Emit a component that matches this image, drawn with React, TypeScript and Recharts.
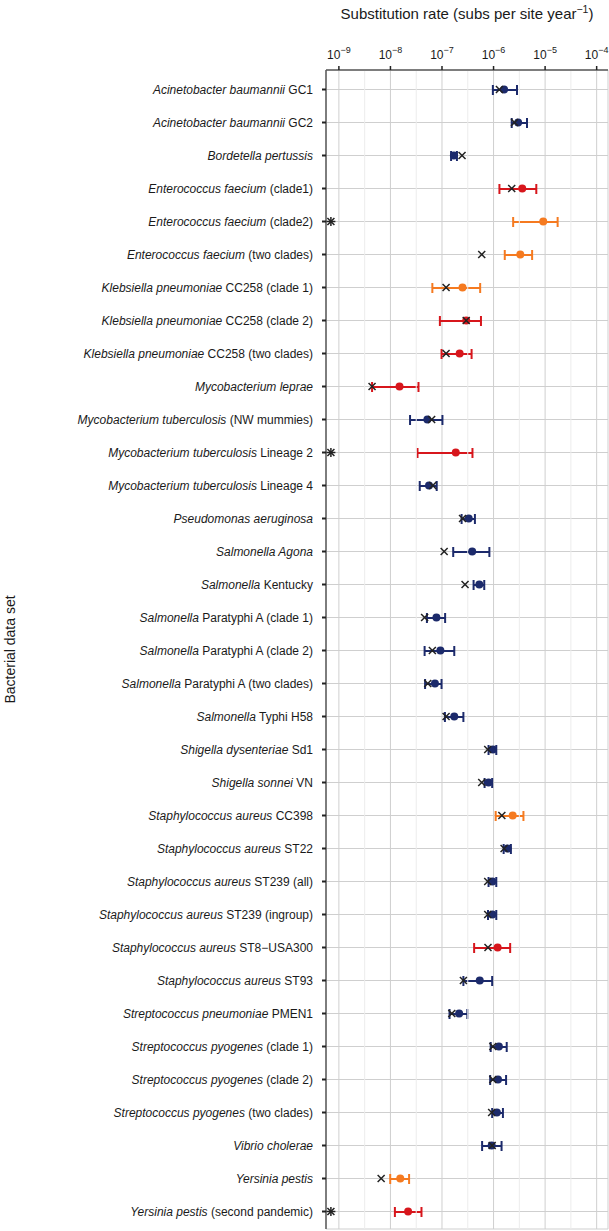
import React from 'react';
import { ComposedChart, XAxis, YAxis, CartesianGrid, Bar, Line, ReferenceLine } from 'recharts';

// Italic taxon part and upright strain part of each data-set label
const taxa: string[] = [
  'Acinetobacter baumannii', 'Acinetobacter baumannii', 'Bordetella pertussis',
  'Enterococcus faecium', 'Enterococcus faecium', 'Enterococcus faecium',
  'Klebsiella pneumoniae', 'Klebsiella pneumoniae', 'Klebsiella pneumoniae',
  'Mycobacterium leprae', 'Mycobacterium tuberculosis', 'Mycobacterium tuberculosis',
  'Mycobacterium tuberculosis', 'Pseudomonas aeruginosa', 'Salmonella Agona',
  'Salmonella', 'Salmonella', 'Salmonella', 'Salmonella', 'Salmonella',
  'Shigella dysenteriae', 'Shigella sonnei', 'Staphylococcus aureus',
  'Staphylococcus aureus', 'Staphylococcus aureus', 'Staphylococcus aureus',
  'Staphylococcus aureus', 'Staphylococcus aureus', 'Streptococcus pneumoniae',
  'Streptococcus pyogenes', 'Streptococcus pyogenes', 'Streptococcus pyogenes',
  'Vibrio cholerae', 'Yersinia pestis', 'Yersinia pestis',
];
const strains: string[] = [
  'GC1', 'GC2', '',
  '(clade1)', '(clade2)', '(two clades)',
  'CC258 (clade 1)', 'CC258 (clade 2)', 'CC258 (two clades)',
  '', '(NW mummies)', 'Lineage 2',
  'Lineage 4', '', '',
  'Kentucky', 'Paratyphi A (clade 1)', 'Paratyphi A (clade 2)', 'Paratyphi A (two clades)', 'Typhi H58',
  'Sd1', 'VN', 'CC398',
  'ST22', 'ST239 (all)', 'ST239 (ingroup)',
  'ST8\u2212USA300', 'ST93', 'PMEN1',
  '(clade 1)', '(clade 2)', '(two clades)',
  '', '', '(second pandemic)',
];
// point estimate of the substitution rate
const estimate: number[] = [
  1.6e-6, 3.0e-6, 1.7e-7, 3.6e-6, 9.2e-6, 3.3e-6, 2.5e-7, 2.95e-7, 2.2e-7, 1.5e-8,
  5.2e-8, 1.85e-7, 5.6e-8, 3.3e-7, 3.85e-7, 5.3e-7, 7.8e-8, 9.3e-8, 7.3e-8, 1.73e-7,
  9.7e-7, 8.0e-7, 2.35e-6, 1.87e-6, 9.5e-7, 9.5e-7, 1.2e-6, 5.4e-7, 2.15e-7, 1.27e-6,
  1.22e-6, 1.16e-6, 9.2e-7, 1.55e-8, 2.2e-8,
];
// lower / upper interval bounds
const lower: number[] = [
  9.7e-7, 2.25e-6, 1.5e-7, 1.3e-6, 2.4e-6, 1.65e-6, 6.5e-8, 9.1e-8, 9.8e-8, 4.4e-9,
  2.4e-8, 3.35e-8, 3.7e-8, 2.4e-7, 1.65e-7, 4.1e-7, 5.1e-8, 4.6e-8, 4.7e-8, 1.14e-7,
  8.0e-7, 6.7e-7, 1.1e-6, 1.57e-6, 8.0e-7, 7.8e-7, 4.2e-7, 2.6e-7, 1.4e-7, 8.8e-7,
  8.6e-7, 9.4e-7, 6.0e-7, 9.9e-9, 1.22e-8,
];
const upper: number[] = [
  2.85e-6, 4.45e-6, 1.95e-7, 6.75e-6, 1.75e-5, 5.6e-6, 5.5e-7, 5.7e-7, 3.75e-7, 3.5e-8,
  1.02e-7, 3.9e-7, 7.9e-8, 4.35e-7, 8.3e-7, 6.6e-7, 1.15e-7, 1.73e-7, 9.8e-8, 2.6e-7,
  1.13e-6, 9.4e-7, 3.8e-6, 2.17e-6, 1.13e-6, 1.13e-6, 2.1e-6, 9.4e-7, 3.1e-7, 1.8e-6,
  1.75e-6, 1.52e-6, 1.43e-6, 2.3e-8, 4.0e-8,
];
// second (cross-marked) estimate; values below 1e-9 sit at the axis edge
const crossEstimate: number[] = [
  1.3e-6, 2.55e-6, 2.45e-7, 2.25e-6, 7e-10, 5.9e-7, 1.2e-7, 2.95e-7, 1.2e-7, 4.4e-9,
  6.3e-8, 7e-10, 6.6e-8, 2.5e-7, 1.1e-7, 2.8e-7, 4.6e-8, 6.5e-8, 5.3e-8, 1.2e-7,
  7.7e-7, 5.9e-7, 1.45e-6, 1.6e-6, 7.7e-7, 7.7e-7, 7.8e-7, 2.6e-7, 1.55e-7, 9.7e-7,
  9.7e-7, 9.2e-7, 9.4e-7, 6.6e-9, 7e-10,
];
// colour class of each data set
const colourClass: string[] = [
  'A', 'A', 'A', 'B', 'C', 'C', 'C', 'B', 'B', 'B',
  'A', 'B', 'A', 'A', 'A', 'A', 'A', 'A', 'A', 'A',
  'A', 'A', 'C', 'A', 'A', 'A', 'B', 'A', 'A', 'A',
  'A', 'A', 'A', 'C', 'B',
];
const majorTicks: number[] = [1e-9, 1e-8, 1e-7, 1e-6, 1e-5, 1e-4];
const minorTicks: number[] = [Math.pow(10, -8.5), Math.pow(10, -7.5), Math.pow(10, -6.5), Math.pow(10, -5.5), Math.pow(10, -4.5)];
const xDomain: [number, number] = [Math.pow(10, -9.25), Math.pow(10, -3.78)];

const COLORS: Record<string, string> = { A: '#1c2a6b', B: '#d7161c', C: '#f57a20' };
const FONT = '"Liberation Sans", Arial, Helvetica, sans-serif';

const rows = taxa.map((t, i) => ({
  label: strains[i] ? `${t} ${strains[i]}` : t,
  taxon: t,
  strain: strains[i],
  est: estimate[i],
  lo: lower[i],
  hi: upper[i],
  cross: crossEstimate[i],
  cls: colourClass[i],
}));

const YTick = (props: any) => {
  const { x, y, payload } = props;
  const row = rows.find((r) => r.label === payload.value);
  if (!row) return null;
  return (
    <text x={x} y={y} dy="0.36em" textAnchor="end" fontSize={12} fill="#1a1a1a" fontFamily={FONT} xmlSpace="preserve">
      <tspan fontStyle="italic">{row.taxon}</tspan>
      {row.strain ? <tspan>{' ' + row.strain}</tspan> : null}
    </text>
  );
};

const XTick = (props: any) => {
  const { x, y, payload } = props;
  const exp = Math.round(Math.log10(payload.value));
  return (
    <text x={x} y={y - 5} textAnchor="middle" fontSize={12} fill="#1a1a1a" fontFamily={FONT}>
      <tspan>10</tspan>
      <tspan dy={-6} fontSize={9}>{'\u2212' + Math.abs(exp)}</tspan>
    </text>
  );
};

const ErrShape = (props: any) => {
  const { x, y, width, height, payload } = props;
  const c = COLORS[payload.cls];
  const cy = y + height / 2;
  const x2 = x + width;
  return (
    <g>
      <line x1={x} x2={x2} y1={cy} y2={cy} stroke={c} strokeWidth={2} />
      <line x1={x} x2={x} y1={cy - 5} y2={cy + 5} stroke={c} strokeWidth={2} />
      <line x1={x2} x2={x2} y1={cy - 5} y2={cy + 5} stroke={c} strokeWidth={2} />
    </g>
  );
};

const renderDot = (p: any) => {
  if (p.cx == null || p.cy == null) return <g key={`d${p.index}`} />;
  return <circle key={`d${p.index}`} cx={p.cx} cy={p.cy} r={4} fill={COLORS[p.payload.cls]} />;
};

const renderCross = (p: any) => {
  if (p.cx == null || p.cy == null) return <g key={`c${p.index}`} />;
  const s = 3.5;
  const { cx, cy } = p;
  const edge = p.payload.cross < 1e-9;
  return (
    <g key={`c${p.index}`} stroke="#222" strokeWidth={1.5}>
      <line x1={cx - s} y1={cy - s} x2={cx + s} y2={cy + s} />
      <line x1={cx - s} y1={cy + s} x2={cx + s} y2={cy - s} />
      {edge ? <line x1={cx} y1={cy - 4.5} x2={cx} y2={cy + 4.5} /> : null}
      {edge ? <line x1={cx - 4.5} y1={cy} x2={cx + 4.5} y2={cy} /> : null}
    </g>
  );
};

const BORDER = '#5a5a5a';

export default function App() {
  return (
    <div style={{ position: 'absolute', left: 0, top: 0, width: 609, height: 1231, background: '#fff' }}>
      <ComposedChart
        width={609}
        height={1231}
        data={rows}
        layout="vertical"
        margin={{ top: 0, right: 1, bottom: 2, left: 0 }}
      >
        <CartesianGrid stroke="#cfcfcf" strokeWidth={1} />
        {minorTicks.map((v) => (
          <ReferenceLine key={v} x={v} stroke="#ececec" strokeWidth={1} ifOverflow="extendDomain" />
        ))}
        <XAxis
          type="number"
          scale="log"
          domain={xDomain}
          allowDataOverflow
          ticks={majorTicks}
          orientation="top"
          height={70}
          tick={<XTick />}
          tickSize={4}
          tickLine={{ stroke: '#222', strokeWidth: 1.5 }}
          axisLine={{ stroke: BORDER, strokeWidth: 1.5 }}
          interval={0}
          label={{
            content: (lp: any) => {
              const vb = lp.viewBox || { x: 326, width: 282, y: 0 };
              return (
                <text x={vb.x + vb.width / 2} y={19} textAnchor="middle" fontSize={15} fill="#1a1a1a" fontFamily={FONT}>
                  <tspan>Substitution rate (subs per site year</tspan>
                  <tspan dy={-6} fontSize={10.5}>{'\u22121'}</tspan>
                  <tspan dy={6}>)</tspan>
                </text>
              );
            },
          }}
        />
        <XAxis
          xAxisId="b"
          type="number"
          scale="log"
          domain={xDomain}
          allowDataOverflow
          orientation="bottom"
          height={0}
          tick={false}
          tickLine={false}
          axisLine={{ stroke: BORDER, strokeWidth: 1.5 }}
        />
        <YAxis
          type="category"
          dataKey="label"
          width={326}
          interval={0}
          padding={{ top: 3, bottom: 1 }}
          tick={<YTick />}
          tickSize={4}
          tickMargin={9}
          tickLine={{ stroke: '#222', strokeWidth: 2 }}
          axisLine={{ stroke: BORDER, strokeWidth: 1.5 }}
          label={{
            content: (lp: any) => {
              const vb = lp.viewBox || { y: 70, height: 1159 };
              const cy = vb.y + vb.height / 2;
              return (
                <text x={15} y={cy} transform={`rotate(-90 15 ${cy})`} textAnchor="middle" fontSize={14} fill="#1a1a1a" fontFamily={FONT}>
                  Bacterial data set
                </text>
              );
            },
          }}
        />
        <YAxis
          yAxisId="r"
          type="category"
          dataKey="label"
          orientation="right"
          width={0}
          tick={false}
          tickLine={false}
          axisLine={{ stroke: BORDER, strokeWidth: 1.5 }}
        />
        <Bar dataKey={(d: any) => [d.lo, d.hi]} barSize={10} shape={<ErrShape />} isAnimationActive={false} />
        <Line dataKey="est" stroke="none" dot={renderDot} activeDot={false} isAnimationActive={false} />
        <Line dataKey="cross" stroke="none" dot={renderCross} activeDot={false} isAnimationActive={false} />
      </ComposedChart>
    </div>
  );
}
